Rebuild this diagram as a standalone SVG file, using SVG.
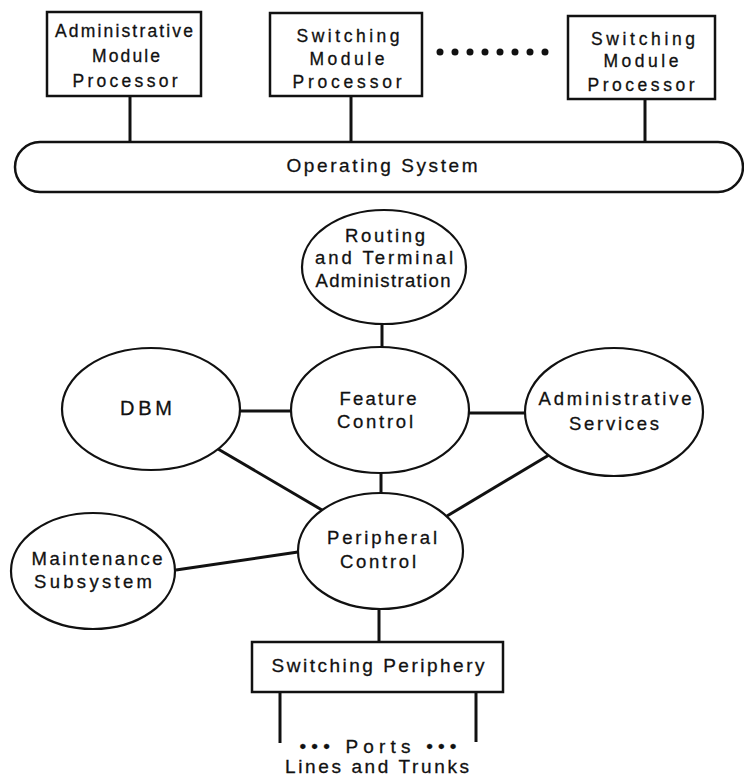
<svg xmlns="http://www.w3.org/2000/svg" width="744" height="776" viewBox="0 0 744 776">
  <style>
    .box { fill: #fff; stroke: #111; stroke-width: 2.5; }
    .ell { fill: #fff; stroke: #111; stroke-width: 2.2; }
    .wire { stroke: #111; stroke-width: 3; fill: none; stroke-linecap: butt; }
    text { font-family: "Liberation Sans", Arial, sans-serif; fill: #111; text-anchor: middle; stroke: #111; stroke-width: 0.3; }
    .bt { font-size: 17.5px; }
    .et { font-size: 18.5px; }
    .lt { font-size: 19px; }
  </style>
  <rect width="744" height="776" fill="#fff"/>

  <!-- connectors -->
  <g id="connectors">
    <line class="wire" x1="130" y1="96" x2="130" y2="142"/>
    <line class="wire" x1="351" y1="96" x2="351" y2="142"/>
    <line class="wire" x1="645" y1="99" x2="645" y2="142"/>
    <line class="wire" x1="382" y1="324" x2="382" y2="347"/>
    <line class="wire" x1="240" y1="411" x2="291" y2="411"/>
    <line class="wire" x1="469" y1="413" x2="525" y2="413"/>
    <line class="wire" x1="381" y1="473" x2="381" y2="493"/>
    <line class="wire" x1="218" y1="449" x2="322" y2="510"/>
    <line class="wire" x1="549" y1="455" x2="447" y2="516"/>
    <line class="wire" x1="176" y1="570" x2="298" y2="552"/>
    <line class="wire" x1="379" y1="609" x2="379" y2="642"/>
    <line class="wire" x1="280" y1="692" x2="280" y2="743"/>
    <line class="wire" x1="476" y1="692" x2="476" y2="742"/>
  </g>

  <!-- module processors -->
  <g id="admin-module-processor">
    <rect class="box" x="47" y="12" width="154" height="84"/>
    <text class="bt" x="124" y="37" textLength="138" lengthAdjust="spacing">Administrative</text>
    <text class="bt" x="126" y="62" textLength="68" lengthAdjust="spacing">Module</text>
    <text class="bt" x="125" y="87" textLength="105" lengthAdjust="spacing">Processor</text>
  </g>
  <g id="switching-module-processor-1">
    <rect class="box" x="270" y="13" width="152" height="83"/>
    <text class="bt" x="348" y="42" textLength="103" lengthAdjust="spacing">Switching</text>
    <text class="bt" x="347" y="65" textLength="75" lengthAdjust="spacing">Module</text>
    <text class="bt" x="347" y="88" textLength="109" lengthAdjust="spacing">Processor</text>
  </g>
  <g id="ellipsis-dots" fill="#111">
    <circle cx="440" cy="52" r="3.5"/>
    <circle cx="455" cy="52" r="3.5"/>
    <circle cx="470" cy="52" r="3.5"/>
    <circle cx="485" cy="52" r="3.5"/>
    <circle cx="500" cy="52" r="3.5"/>
    <circle cx="515" cy="52" r="3.5"/>
    <circle cx="530" cy="52" r="3.5"/>
    <circle cx="545" cy="52" r="3.5"/>
  </g>
  <g id="switching-module-processor-n">
    <rect class="box" x="568" y="16" width="147" height="83"/>
    <text class="bt" x="643" y="45" textLength="104" lengthAdjust="spacing">Switching</text>
    <text class="bt" x="641" y="67" textLength="75" lengthAdjust="spacing">Module</text>
    <text class="bt" x="641" y="91" textLength="107" lengthAdjust="spacing">Processor</text>
  </g>

  <!-- operating system bus -->
  <g id="operating-system">
    <rect class="box" x="15" y="142" width="728" height="50" rx="25" ry="25"/>
    <text class="lt" x="382" y="172" textLength="191" lengthAdjust="spacing">Operating System</text>
  </g>

  <!-- software subsystems -->
  <g id="routing-terminal-admin">
    <ellipse class="ell" cx="384" cy="267" rx="82" ry="57"/>
    <text class="et" x="385" y="242" textLength="80" lengthAdjust="spacing">Routing</text>
    <text class="et" x="384" y="264" textLength="138" lengthAdjust="spacing">and Terminal</text>
    <text class="et" x="383" y="287" textLength="135" lengthAdjust="spacing">Administration</text>
  </g>
  <g id="feature-control">
    <ellipse class="ell" cx="380" cy="410" rx="89" ry="63"/>
    <text class="et" x="378" y="405" textLength="77" lengthAdjust="spacing">Feature</text>
    <text class="et" x="375" y="428" textLength="76" lengthAdjust="spacing">Control</text>
  </g>
  <g id="dbm">
    <ellipse class="ell" cx="151" cy="409" rx="89" ry="61"/>
    <text x="146" y="415" font-size="20" textLength="52" lengthAdjust="spacing">DBM</text>
  </g>
  <g id="administrative-services">
    <ellipse class="ell" cx="614" cy="412" rx="89" ry="64"/>
    <text class="et" x="615" y="405" textLength="153" lengthAdjust="spacing">Administrative</text>
    <text class="et" x="614" y="430" textLength="90" lengthAdjust="spacing">Services</text>
  </g>
  <g id="peripheral-control">
    <ellipse class="ell" cx="380.5" cy="551" rx="82.5" ry="58"/>
    <text class="et" x="382" y="544" textLength="110" lengthAdjust="spacing">Peripheral</text>
    <text class="et" x="378" y="568" textLength="76" lengthAdjust="spacing">Control</text>
  </g>
  <g id="maintenance-subsystem">
    <ellipse class="ell" cx="93" cy="571" rx="82" ry="58"/>
    <text class="et" x="97" y="565" textLength="131" lengthAdjust="spacing">Maintenance</text>
    <text class="et" x="93" y="588" textLength="118" lengthAdjust="spacing">Subsystem</text>
  </g>

  <!-- switching periphery and ports -->
  <g id="switching-periphery">
    <rect class="box" x="252" y="642" width="251" height="50"/>
    <text class="lt" x="378" y="672" textLength="213" lengthAdjust="spacing">Switching Periphery</text>
  </g>
  <g id="ports">
    <text class="lt" x="378" y="753" textLength="157" lengthAdjust="spacing">••• Ports •••</text>
    <text class="lt" x="377" y="773" textLength="184" lengthAdjust="spacing">Lines and Trunks</text>
  </g>
</svg>
